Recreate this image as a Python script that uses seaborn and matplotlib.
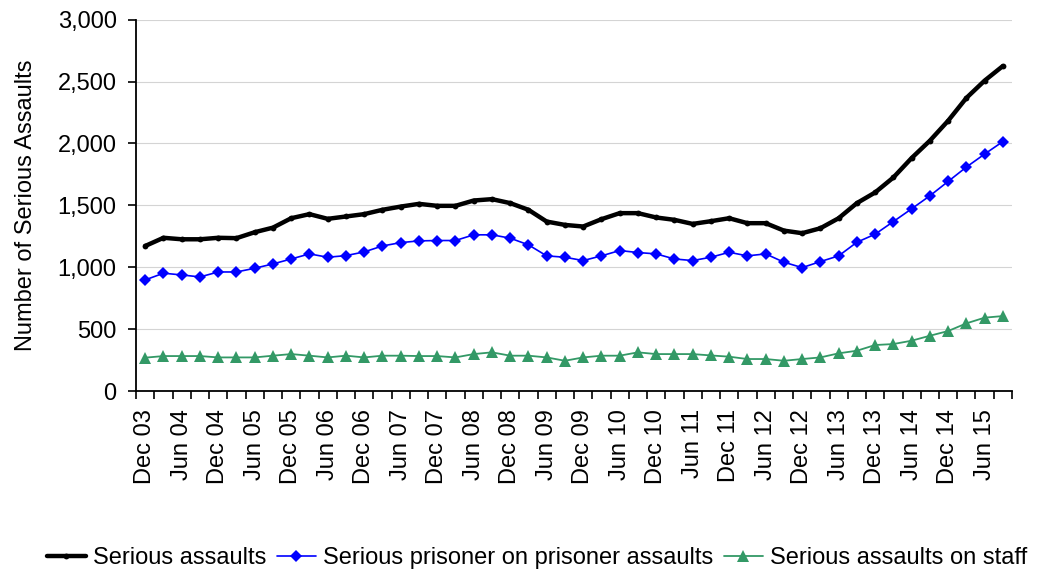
import matplotlib
matplotlib.use("Agg")
import matplotlib.pyplot as plt
from matplotlib.ticker import FuncFormatter, FixedLocator
import numpy as np
import pandas as pd
import seaborn as sns

# Quarterly series, Dec 2003 to Sep 2015
quarters = [
    "Dec 03", "Mar 04", "Jun 04", "Sep 04", "Dec 04", "Mar 05", "Jun 05", "Sep 05",
    "Dec 05", "Mar 06", "Jun 06", "Sep 06", "Dec 06", "Mar 07", "Jun 07", "Sep 07",
    "Dec 07", "Mar 08", "Jun 08", "Sep 08", "Dec 08", "Mar 09", "Jun 09", "Sep 09",
    "Dec 09", "Mar 10", "Jun 10", "Sep 10", "Dec 10", "Mar 11", "Jun 11", "Sep 11",
    "Dec 11", "Mar 12", "Jun 12", "Sep 12", "Dec 12", "Mar 13", "Jun 13", "Sep 13",
    "Dec 13", "Mar 14", "Jun 14", "Sep 14", "Dec 14", "Mar 15", "Jun 15", "Sep 15",
]

serious_assaults = [
    1172, 1238, 1226, 1226, 1238, 1235, 1283, 1320, 1396, 1429, 1391, 1410,
    1429, 1464, 1490, 1512, 1496, 1496, 1539, 1550, 1518, 1464, 1369, 1342,
    1329, 1388, 1437, 1437, 1402, 1383, 1350, 1372, 1396, 1356, 1356, 1296,
    1275, 1315, 1396, 1518, 1604, 1725, 1882, 2022, 2183, 2367, 2507, 2625,
]

prisoner_on_prisoner = [
    898, 952, 938, 922, 962, 962, 992, 1027, 1067, 1108, 1081, 1094,
    1124, 1172, 1199, 1213, 1216, 1216, 1262, 1262, 1235, 1181, 1092, 1081,
    1054, 1092, 1135, 1119, 1108, 1067, 1054, 1081, 1121, 1092, 1108, 1041,
    997, 1046, 1092, 1202, 1267, 1369, 1472, 1577, 1693, 1809, 1914, 2015,
]

assaults_on_staff = [
    270, 283, 283, 283, 272, 272, 272, 286, 299, 286, 272, 286,
    272, 286, 286, 283, 283, 272, 299, 313, 286, 286, 272, 245,
    272, 286, 286, 313, 299, 299, 299, 288, 278, 259, 259, 245,
    259, 272, 305, 326, 372, 380, 407, 447, 485, 547, 593, 606,
]

series_names = [
    "Serious assaults",
    "Serious prisoner on prisoner assaults",
    "Serious assaults on staff",
]

sns.set_theme(style="white")
plt.rcParams["font.family"] = ["Liberation Sans", "DejaVu Sans"]
plt.rcParams.update({
    "text.color": "black",
    "axes.labelcolor": "black",
    "xtick.color": "black",
    "ytick.color": "black",
})

FS = 17

df = pd.DataFrame({
    "q": np.arange(len(quarters)),
    series_names[0]: serious_assaults,
    series_names[1]: prisoner_on_prisoner,
    series_names[2]: assaults_on_staff,
})

fig = plt.figure(figsize=(10.39, 5.76), dpi=100)
ax = fig.add_axes([0.131, 0.321, 0.843, 0.645])

styles = {
    series_names[0]: dict(color="black", lw=3.2, marker="o", markersize=4.2,
                          markeredgewidth=0),
    series_names[1]: dict(color="#0000FF", lw=1.2, marker="D", markersize=6.2,
                          markeredgewidth=0),
    series_names[2]: dict(color="#339966", lw=1.3, marker="^", markersize=8,
                          markeredgewidth=0),
}

for name in series_names:
    sns.lineplot(data=df, x="q", y=name, ax=ax, label=name, errorbar=None,
                 **styles[name])

ax.set_xlim(-0.5, len(quarters) - 0.5)
ax.set_ylim(0, 3000)
ax.set_yticks(np.arange(0, 3001, 500))
ax.yaxis.set_major_formatter(FuncFormatter(lambda v, p: f"{int(v):,}"))
ax.yaxis.grid(True, color="#d4d4d4", linewidth=0.8)
ax.set_axisbelow(True)

# Category labels every second quarter, tick marks on category boundaries
label_pos = np.arange(0, len(quarters), 2)
ax.xaxis.set_major_locator(FixedLocator(label_pos))
ax.set_xticklabels([quarters[i] for i in label_pos], rotation=90,
                   fontsize=FS, va="top", ha="center")
ax.xaxis.set_minor_locator(FixedLocator(np.arange(-0.5, len(quarters), 1.0)))
ax.tick_params(axis="x", which="major", length=0, pad=13)
ax.tick_params(axis="x", which="minor", length=6, width=1.2, color="black",
               direction="out", bottom=True)
ax.tick_params(axis="y", which="major", length=6, width=1.2, color="black",
               direction="out", left=True, labelsize=FS, pad=8)

for side in ("top", "right"):
    ax.spines[side].set_visible(False)
for side in ("left", "bottom"):
    ax.spines[side].set_color("black")
    ax.spines[side].set_linewidth(1.3)

ax.set_xlabel("")
ax.set_ylabel("Number of Serious Assaults", fontsize=FS, labelpad=15)

ax.legend_.remove()
handles, labels = ax.get_legend_handles_labels()
fig.legend(handles, labels, loc="center", ncol=3, frameon=False,
           bbox_to_anchor=(537 / 1039, 1 - 558 / 576), fontsize=FS,
           handlelength=1.65, handletextpad=0.3, columnspacing=0.45,
           numpoints=1)

fig.savefig("out.png", dpi=100, facecolor="white")
